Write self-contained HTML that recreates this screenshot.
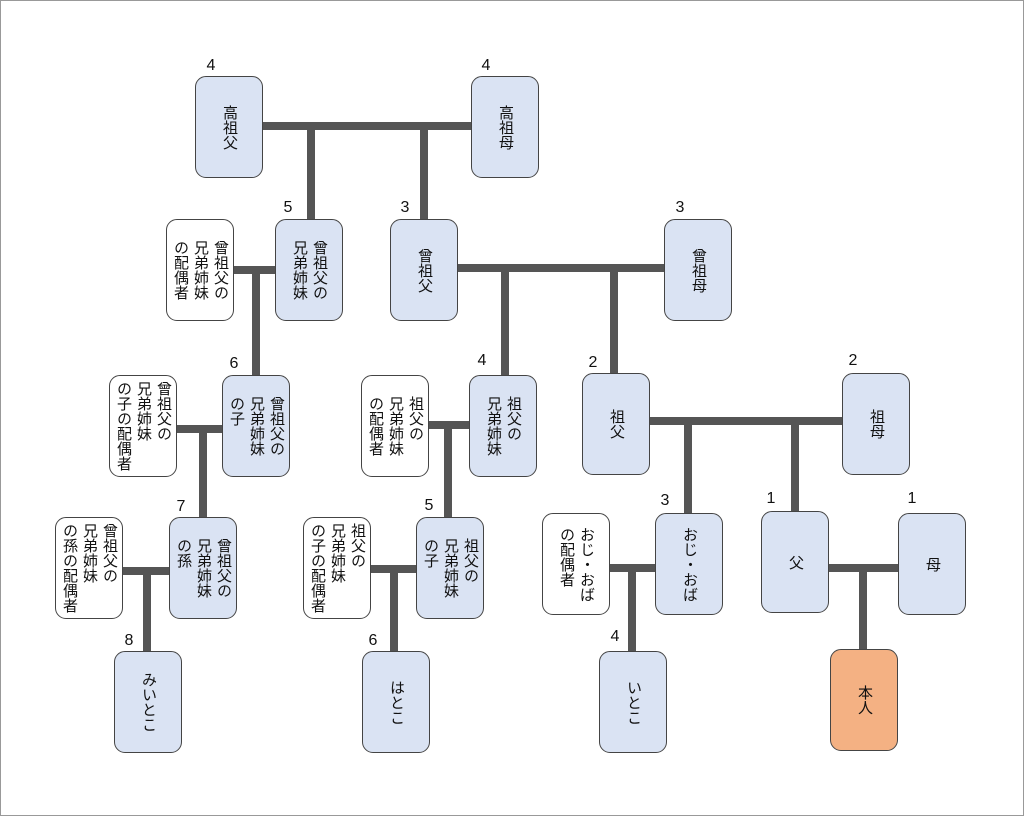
<!DOCTYPE html>
<html><head><meta charset="utf-8"><style>
body{margin:0;background:#fff;}
#c{position:relative;width:1022px;height:814px;border:1px solid #999;overflow:hidden;font-family:"Liberation Sans","Noto Sans CJK JP",sans-serif;}
.b{position:absolute;width:66px;height:100px;border:1px solid #444;border-radius:11px;background:#dae3f3;display:flex;align-items:center;justify-content:center;box-sizing:content-box;}
.w{background:#fff;}
.o{background:#f4b183;}
.b span{writing-mode:vertical-rl;font-size:15px;line-height:20px;color:#111;}
.l{position:absolute;background:#555;}
.n{position:absolute;font-size:16px;color:#111;transform:translate(-50%,-50%);}
</style></head><body><div id="c">
<div class="l" style="left:262px;top:121px;width:208px;height:8px"></div>
<div class="l" style="left:306px;top:121px;width:8px;height:97px"></div>
<div class="l" style="left:419px;top:121px;width:8px;height:97px"></div>
<div class="l" style="left:457px;top:263px;width:206px;height:8px"></div>
<div class="l" style="left:500px;top:263px;width:8px;height:111px"></div>
<div class="l" style="left:609px;top:263px;width:8px;height:109px"></div>
<div class="l" style="left:649px;top:416px;width:192px;height:8px"></div>
<div class="l" style="left:683px;top:416px;width:8px;height:96px"></div>
<div class="l" style="left:790px;top:416px;width:8px;height:94px"></div>
<div class="l" style="left:828px;top:563px;width:69px;height:8px"></div>
<div class="l" style="left:858px;top:563px;width:8px;height:85px"></div>
<div class="l" style="left:233px;top:265px;width:41px;height:8px"></div>
<div class="l" style="left:251px;top:265px;width:8px;height:109px"></div>
<div class="l" style="left:176px;top:424px;width:45px;height:8px"></div>
<div class="l" style="left:198px;top:424px;width:8px;height:92px"></div>
<div class="l" style="left:428px;top:420px;width:40px;height:8px"></div>
<div class="l" style="left:443px;top:420px;width:8px;height:96px"></div>
<div class="l" style="left:122px;top:566px;width:46px;height:8px"></div>
<div class="l" style="left:142px;top:566px;width:8px;height:84px"></div>
<div class="l" style="left:370px;top:564px;width:45px;height:8px"></div>
<div class="l" style="left:389px;top:564px;width:8px;height:86px"></div>
<div class="l" style="left:609px;top:563px;width:45px;height:8px"></div>
<div class="l" style="left:627px;top:563px;width:8px;height:87px"></div>
<div class="b" style="left:194px;top:75px"><span>高祖父</span></div>
<div class="b" style="left:470px;top:75px"><span>高祖母</span></div>
<div class="b w" style="left:165px;top:218px"><span>曾祖父の<br>兄弟姉妹<br>の配偶者</span></div>
<div class="b" style="left:274px;top:218px"><span>曾祖父の<br>兄弟姉妹</span></div>
<div class="b" style="left:389px;top:218px"><span>曾祖父</span></div>
<div class="b" style="left:663px;top:218px"><span>曾祖母</span></div>
<div class="b w" style="left:108px;top:374px"><span>曾祖父の<br>兄弟姉妹<br>の子の配偶者</span></div>
<div class="b" style="left:221px;top:374px"><span>曾祖父の<br>兄弟姉妹<br>の子</span></div>
<div class="b w" style="left:360px;top:374px"><span>祖父の<br>兄弟姉妹<br>の配偶者</span></div>
<div class="b" style="left:468px;top:374px"><span>祖父の<br>兄弟姉妹</span></div>
<div class="b" style="left:581px;top:372px"><span>祖父</span></div>
<div class="b" style="left:841px;top:372px"><span>祖母</span></div>
<div class="b w" style="left:54px;top:516px"><span>曾祖父の<br>兄弟姉妹<br>の孫の配偶者</span></div>
<div class="b" style="left:168px;top:516px"><span>曾祖父の<br>兄弟姉妹<br>の孫</span></div>
<div class="b w" style="left:302px;top:516px"><span>祖父の<br>兄弟姉妹<br>の子の配偶者</span></div>
<div class="b" style="left:415px;top:516px"><span>祖父の<br>兄弟姉妹<br>の子</span></div>
<div class="b w" style="left:541px;top:512px"><span>おじ・おば<br>の配偶者</span></div>
<div class="b" style="left:654px;top:512px"><span>おじ・おば</span></div>
<div class="b" style="left:760px;top:510px"><span>父</span></div>
<div class="b" style="left:897px;top:512px"><span>母</span></div>
<div class="b" style="left:113px;top:650px"><span>みいとこ</span></div>
<div class="b" style="left:361px;top:650px"><span>はとこ</span></div>
<div class="b" style="left:598px;top:650px"><span>いとこ</span></div>
<div class="b o" style="left:829px;top:648px"><span>本人</span></div>
<div class="n" style="left:210px;top:65px">4</div>
<div class="n" style="left:485px;top:65px">4</div>
<div class="n" style="left:287px;top:207px">5</div>
<div class="n" style="left:404px;top:207px">3</div>
<div class="n" style="left:679px;top:207px">3</div>
<div class="n" style="left:233px;top:363px">6</div>
<div class="n" style="left:481px;top:360px">4</div>
<div class="n" style="left:592px;top:362px">2</div>
<div class="n" style="left:852px;top:360px">2</div>
<div class="n" style="left:180px;top:506px">7</div>
<div class="n" style="left:428px;top:505px">5</div>
<div class="n" style="left:664px;top:500px">3</div>
<div class="n" style="left:770px;top:498px">1</div>
<div class="n" style="left:911px;top:498px">1</div>
<div class="n" style="left:128px;top:640px">8</div>
<div class="n" style="left:372px;top:640px">6</div>
<div class="n" style="left:614px;top:636px">4</div>
</div></body></html>
